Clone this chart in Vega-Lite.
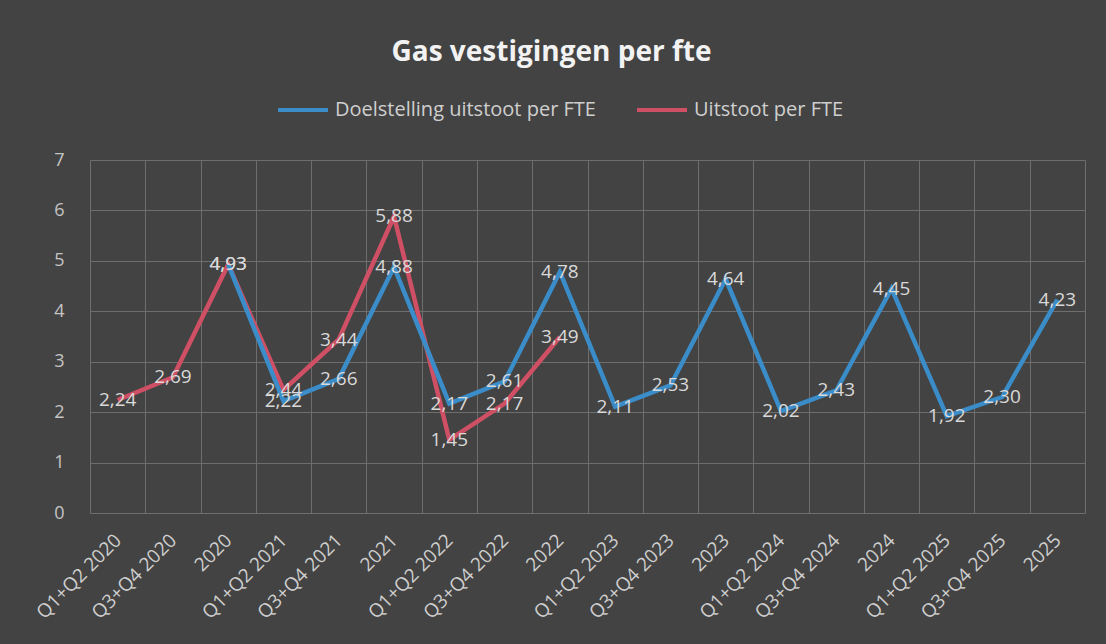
{
  "$schema": "https://vega.github.io/schema/vega-lite/v6.json",
  "autosize": {"type": "none"},
  "width": 995,
  "height": 353,
  "padding": {"left": 90, "top": 160, "right": 21, "bottom": 131},
  "background": "#434343",
  "title": {
    "text": "Gas vestigingen per fte",
    "anchor": "middle",
    "dx": -36,
    "offset": 16,
    "font": "Open Sans",
    "fontSize": 28,
    "fontWeight": "bold",
    "color": "#f2f2f2"
  },
  "config": {
    "view": {"stroke": null},
    "locale": {"number": {"decimal": ",", "thousands": ".", "grouping": [3], "currency": ["€", ""]}},
    "font": "Open Sans"
  },
  "data": {
    "values": [
      {"cat": "Q1+Q2 2020", "series": "Uitstoot per FTE", "value": 2.24},
      {"cat": "Q3+Q4 2020", "series": "Uitstoot per FTE", "value": 2.69},
      {"cat": "2020", "series": "Uitstoot per FTE", "value": 4.93},
      {"cat": "Q1+Q2 2021", "series": "Uitstoot per FTE", "value": 2.44},
      {"cat": "Q3+Q4 2021", "series": "Uitstoot per FTE", "value": 3.44},
      {"cat": "2021", "series": "Uitstoot per FTE", "value": 5.88},
      {"cat": "Q1+Q2 2022", "series": "Uitstoot per FTE", "value": 1.45},
      {"cat": "Q3+Q4 2022", "series": "Uitstoot per FTE", "value": 2.17},
      {"cat": "2022", "series": "Uitstoot per FTE", "value": 3.49},
      {"cat": "2020", "series": "Doelstelling uitstoot per FTE", "value": 4.93},
      {"cat": "Q1+Q2 2021", "series": "Doelstelling uitstoot per FTE", "value": 2.22},
      {"cat": "Q3+Q4 2021", "series": "Doelstelling uitstoot per FTE", "value": 2.66},
      {"cat": "2021", "series": "Doelstelling uitstoot per FTE", "value": 4.88},
      {"cat": "Q1+Q2 2022", "series": "Doelstelling uitstoot per FTE", "value": 2.17},
      {"cat": "Q3+Q4 2022", "series": "Doelstelling uitstoot per FTE", "value": 2.61},
      {"cat": "2022", "series": "Doelstelling uitstoot per FTE", "value": 4.78},
      {"cat": "Q1+Q2 2023", "series": "Doelstelling uitstoot per FTE", "value": 2.11},
      {"cat": "Q3+Q4 2023", "series": "Doelstelling uitstoot per FTE", "value": 2.53},
      {"cat": "2023", "series": "Doelstelling uitstoot per FTE", "value": 4.64},
      {"cat": "Q1+Q2 2024", "series": "Doelstelling uitstoot per FTE", "value": 2.02},
      {"cat": "Q3+Q4 2024", "series": "Doelstelling uitstoot per FTE", "value": 2.43},
      {"cat": "2024", "series": "Doelstelling uitstoot per FTE", "value": 4.45},
      {"cat": "Q1+Q2 2025", "series": "Doelstelling uitstoot per FTE", "value": 1.92},
      {"cat": "Q3+Q4 2025", "series": "Doelstelling uitstoot per FTE", "value": 2.30},
      {"cat": "2025", "series": "Doelstelling uitstoot per FTE", "value": 4.23}
    ]
  },
  "encoding": {
    "x": {
      "field": "cat",
      "type": "ordinal",
      "bandPosition": 0.5,
      "sort": ["Q1+Q2 2020", "Q3+Q4 2020", "2020", "Q1+Q2 2021", "Q3+Q4 2021", "2021", "Q1+Q2 2022", "Q3+Q4 2022", "2022", "Q1+Q2 2023", "Q3+Q4 2023", "2023", "Q1+Q2 2024", "Q3+Q4 2024", "2024", "Q1+Q2 2025", "Q3+Q4 2025", "2025"],
      "scale": {"type": "band", "paddingInner": 0, "paddingOuter": 0},
      "axis": {
        "title": null,
        "grid": true,
        "tickBand": "extent",
        "gridColor": "#6e6e6e",
        "gridWidth": 1,
        "domain": false,
        "ticks": false,
        "labelAngle": -45,
        "labelAlign": "right",
        "labelBaseline": "middle",
        "labelPadding": 24,
        "labelFontSize": 19,
        "labelColor": "#cfcfcf",
        "labelFont": "Open Sans",
        "labelOverlap": false
      }
    },
    "y": {
      "field": "value",
      "type": "quantitative",
      "scale": {"domain": [0, 7]},
      "axis": {
        "title": null,
        "values": [0, 1, 2, 3, 4, 5, 6, 7],
        "grid": true,
        "gridColor": "#6e6e6e",
        "gridWidth": 1,
        "domain": false,
        "ticks": false,
        "labelPadding": 26,
        "labelFontSize": 18,
        "labelColor": "#c4c4c4",
        "labelFont": "Open Sans"
      }
    }
  },
  "layer": [
    {
      "mark": {"type": "line", "strokeWidth": 4.5, "strokeJoin": "miter"},
      "encoding": {
        "color": {
          "field": "series",
          "type": "nominal",
          "scale": {"domain": ["Doelstelling uitstoot per FTE", "Uitstoot per FTE"], "range": ["#3a8dc8", "#cf5064"]},
          "legend": {
            "title": null,
            "orient": "none",
            "direction": "horizontal",
            "legendX": 186,
            "legendY": -77,
            "symbolType": "stroke",
            "symbolSize": 2500,
            "symbolStrokeWidth": 4,
            "labelFontSize": 20,
            "labelColor": "#cfcfcf",
            "labelFont": "Open Sans",
            "labelLimit": 0,
            "columnPadding": 33,
            "labelOffset": 5
          }
        }
      }
    },
    {
      "mark": {"type": "text", "align": "center", "baseline": "middle", "fontSize": 19, "color": "#d9d9d9", "font": "Open Sans"},
      "encoding": {
        "text": {"field": "value", "type": "quantitative", "format": ".2f"}
      }
    }
  ]
}
